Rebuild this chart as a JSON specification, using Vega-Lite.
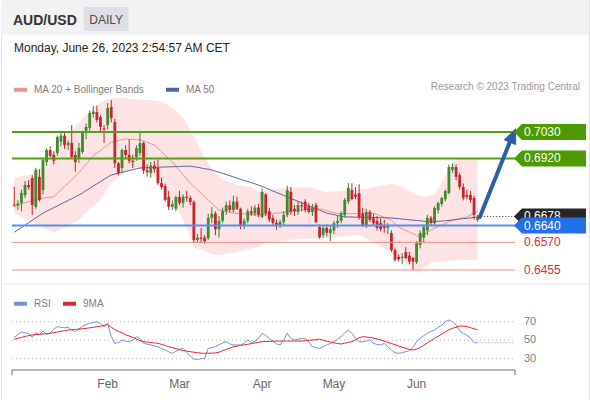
{
"$schema": "https://vega.github.io/schema/vega-lite/v6.json",
"width": 590, "height": 400,
"autosize": {"type": "fit", "contains": "padding"},
"padding": 0,
"background": "#ffffff",
"config": {"font": "Liberation Sans", "view": {"stroke": "#e2e2e2"}},
"datasets": {
"candles": [
{"i":0,"o":0.6728,"h":0.6802,"l":0.6718,"c":0.6724,"ma20":0.6720,"bbu":0.6840,"bbl":0.6693,"ma50":0.6612,"rsi":53,"rsima":51},
{"i":1,"o":0.6724,"h":0.6745,"l":0.6705,"c":0.6732,"ma20":0.6725,"bbu":0.6843,"bbl":0.6685,"ma50":0.6622,"rsi":56,"rsima":52},
{"i":2,"o":0.6734,"h":0.6790,"l":0.6700,"c":0.6776,"ma20":0.6730,"bbu":0.6846,"bbl":0.6678,"ma50":0.6632,"rsi":59,"rsima":53},
{"i":3,"o":0.6767,"h":0.6825,"l":0.6755,"c":0.6809,"ma20":0.6735,"bbu":0.6849,"bbl":0.6670,"ma50":0.6642,"rsi":58,"rsima":54},
{"i":4,"o":0.6809,"h":0.6830,"l":0.6790,"c":0.6800,"ma20":0.6740,"bbu":0.6852,"bbl":0.6662,"ma50":0.6652,"rsi":57.4,"rsima":55},
{"i":5,"o":0.6838,"h":0.6850,"l":0.6684,"c":0.6726,"ma20":0.6744,"bbu":0.6855,"bbl":0.6655,"ma50":0.6662,"rsi":53,"rsima":55.7},
{"i":6,"o":0.6718,"h":0.6880,"l":0.6710,"c":0.6872,"ma20":0.6748,"bbu":0.6867,"bbl":0.6647,"ma50":0.6672,"rsi":58,"rsima":56},
{"i":7,"o":0.6843,"h":0.6875,"l":0.6740,"c":0.6747,"ma20":0.6752,"bbu":0.6878,"bbl":0.6639,"ma50":0.6682,"rsi":56,"rsima":56.4},
{"i":8,"o":0.6788,"h":0.6920,"l":0.6770,"c":0.6913,"ma20":0.6755,"bbu":0.6890,"bbl":0.6632,"ma50":0.6692,"rsi":60,"rsima":56.7},
{"i":9,"o":0.6905,"h":0.6962,"l":0.6890,"c":0.6955,"ma20":0.6757,"bbu":0.6910,"bbl":0.6624,"ma50":0.6700,"rsi":56,"rsima":57.1},
{"i":10,"o":0.6955,"h":0.6970,"l":0.6925,"c":0.6930,"ma20":0.6758,"bbu":0.6930,"bbl":0.6617,"ma50":0.6707,"rsi":58,"rsima":57.5},
{"i":11,"o":0.6935,"h":0.6950,"l":0.6895,"c":0.6910,"ma20":0.6760,"bbu":0.6950,"bbl":0.6609,"ma50":0.6715,"rsi":62,"rsima":58.2},
{"i":12,"o":0.6942,"h":0.7015,"l":0.6930,"c":0.7009,"ma20":0.6774,"bbu":0.6970,"bbl":0.6617,"ma50":0.6722,"rsi":64.6,"rsima":58.9},
{"i":13,"o":0.6990,"h":0.7035,"l":0.6970,"c":0.7015,"ma20":0.6789,"bbu":0.6986,"bbl":0.6625,"ma50":0.6730,"rsi":64,"rsima":59.6},
{"i":14,"o":0.7015,"h":0.7030,"l":0.6960,"c":0.6975,"ma20":0.6803,"bbu":0.7003,"bbl":0.6633,"ma50":0.6737,"rsi":63.5,"rsima":60.3},
{"i":15,"o":0.6975,"h":0.6995,"l":0.6955,"c":0.6985,"ma20":0.6817,"bbu":0.7019,"bbl":0.6641,"ma50":0.6745,"rsi":63.9,"rsima":61},
{"i":16,"o":0.6984,"h":0.7059,"l":0.6920,"c":0.6926,"ma20":0.6831,"bbu":0.7035,"bbl":0.6649,"ma50":0.6752,"rsi":61,"rsima":61.3},
{"i":17,"o":0.6934,"h":0.6950,"l":0.6865,"c":0.6905,"ma20":0.6846,"bbu":0.7051,"bbl":0.6657,"ma50":0.6760,"rsi":59.2,"rsima":61.7},
{"i":18,"o":0.6920,"h":0.6985,"l":0.6900,"c":0.6963,"ma20":0.6860,"bbu":0.7068,"bbl":0.6668,"ma50":0.6767,"rsi":62,"rsima":62},
{"i":19,"o":0.6947,"h":0.7035,"l":0.6940,"c":0.7026,"ma20":0.6878,"bbu":0.7084,"bbl":0.6681,"ma50":0.6776,"rsi":65,"rsima":62.4},
{"i":20,"o":0.7026,"h":0.7065,"l":0.7000,"c":0.7051,"ma20":0.6895,"bbu":0.7100,"bbl":0.6695,"ma50":0.6786,"rsi":67,"rsima":62.8},
{"i":21,"o":0.7047,"h":0.7120,"l":0.7030,"c":0.7109,"ma20":0.6913,"bbu":0.7114,"bbl":0.6708,"ma50":0.6795,"rsi":68.3,"rsima":63.4},
{"i":22,"o":0.7105,"h":0.7140,"l":0.7090,"c":0.7115,"ma20":0.6930,"bbu":0.7128,"bbl":0.6721,"ma50":0.6805,"rsi":69,"rsima":64},
{"i":23,"o":0.7113,"h":0.7140,"l":0.7070,"c":0.7080,"ma20":0.6942,"bbu":0.7141,"bbl":0.6734,"ma50":0.6814,"rsi":70,"rsima":64.6},
{"i":24,"o":0.7092,"h":0.7100,"l":0.7030,"c":0.7051,"ma20":0.6953,"bbu":0.7155,"bbl":0.6747,"ma50":0.6823,"rsi":68,"rsima":65.1},
{"i":25,"o":0.7045,"h":0.7059,"l":0.6984,"c":0.7040,"ma20":0.6965,"bbu":0.7160,"bbl":0.6770,"ma50":0.6833,"rsi":64.6,"rsima":66},
{"i":26,"o":0.7059,"h":0.7150,"l":0.7040,"c":0.7130,"ma20":0.6976,"bbu":0.7165,"bbl":0.6794,"ma50":0.6842,"rsi":68.3,"rsima":67},
{"i":27,"o":0.7134,"h":0.7163,"l":0.7070,"c":0.7088,"ma20":0.6988,"bbu":0.7170,"bbl":0.6817,"ma50":0.6851,"rsi":54,"rsima":64},
{"i":28,"o":0.7072,"h":0.7085,"l":0.6880,"c":0.6900,"ma20":0.6991,"bbu":0.7171,"bbl":0.6830,"ma50":0.6855,"rsi":46.6,"rsima":61.5},
{"i":29,"o":0.6900,"h":0.6905,"l":0.6850,"c":0.6860,"ma20":0.6995,"bbu":0.7171,"bbl":0.6842,"ma50":0.6858,"rsi":47.5,"rsima":59.5},
{"i":30,"o":0.6880,"h":0.6962,"l":0.6860,"c":0.6955,"ma20":0.6998,"bbu":0.7172,"bbl":0.6850,"ma50":0.6862,"rsi":50.2,"rsima":58},
{"i":31,"o":0.6955,"h":0.6975,"l":0.6920,"c":0.6935,"ma20":0.7001,"bbu":0.7171,"bbl":0.6859,"ma50":0.6866,"rsi":49,"rsima":56},
{"i":32,"o":0.6935,"h":0.7000,"l":0.6900,"c":0.6910,"ma20":0.7000,"bbu":0.7169,"bbl":0.6867,"ma50":0.6869,"rsi":48.4,"rsima":54.5},
{"i":33,"o":0.6910,"h":0.6935,"l":0.6880,"c":0.6905,"ma20":0.6999,"bbu":0.7168,"bbl":0.6876,"ma50":0.6873,"rsi":50,"rsima":53},
{"i":34,"o":0.6926,"h":0.6975,"l":0.6910,"c":0.6963,"ma20":0.6998,"bbu":0.7166,"bbl":0.6884,"ma50":0.6877,"rsi":53.8,"rsima":51.3},
{"i":35,"o":0.6942,"h":0.7026,"l":0.6930,"c":0.6984,"ma20":0.6997,"bbu":0.7165,"bbl":0.6876,"ma50":0.6880,"rsi":52,"rsima":49.6},
{"i":36,"o":0.6984,"h":0.6990,"l":0.6855,"c":0.6870,"ma20":0.6992,"bbu":0.7164,"bbl":0.6867,"ma50":0.6881,"rsi":46.6,"rsima":48.4},
{"i":37,"o":0.6870,"h":0.6895,"l":0.6845,"c":0.6863,"ma20":0.6986,"bbu":0.7163,"bbl":0.6859,"ma50":0.6881,"rsi":45.7,"rsima":48},
{"i":38,"o":0.6860,"h":0.6905,"l":0.6840,"c":0.6890,"ma20":0.6981,"bbu":0.7162,"bbl":0.6853,"ma50":0.6882,"rsi":44.8,"rsima":47.5},
{"i":39,"o":0.6890,"h":0.6910,"l":0.6860,"c":0.6875,"ma20":0.6976,"bbu":0.7161,"bbl":0.6846,"ma50":0.6882,"rsi":44,"rsima":47},
{"i":40,"o":0.6880,"h":0.6915,"l":0.6810,"c":0.6817,"ma20":0.6962,"bbu":0.7160,"bbl":0.6840,"ma50":0.6883,"rsi":43,"rsima":46.6},
{"i":41,"o":0.6817,"h":0.6840,"l":0.6790,"c":0.6800,"ma20":0.6948,"bbu":0.7153,"bbl":0.6808,"ma50":0.6884,"rsi":41,"rsima":45.5},
{"i":42,"o":0.6805,"h":0.6815,"l":0.6740,"c":0.6747,"ma20":0.6933,"bbu":0.7147,"bbl":0.6776,"ma50":0.6884,"rsi":39.4,"rsima":44.3},
{"i":43,"o":0.6760,"h":0.6785,"l":0.6705,"c":0.6718,"ma20":0.6919,"bbu":0.7140,"bbl":0.6752,"ma50":0.6885,"rsi":37.5,"rsima":43},
{"i":44,"o":0.6718,"h":0.6745,"l":0.6705,"c":0.6730,"ma20":0.6905,"bbu":0.7130,"bbl":0.6736,"ma50":0.6885,"rsi":35.8,"rsima":42},
{"i":45,"o":0.6710,"h":0.6765,"l":0.6700,"c":0.6759,"ma20":0.6887,"bbu":0.7120,"bbl":0.6720,"ma50":0.6886,"rsi":38,"rsima":40.9},
{"i":46,"o":0.6759,"h":0.6785,"l":0.6725,"c":0.6735,"ma20":0.6870,"bbu":0.7105,"bbl":0.6691,"ma50":0.6886,"rsi":40,"rsima":39.8},
{"i":47,"o":0.6735,"h":0.6770,"l":0.6715,"c":0.6760,"ma20":0.6852,"bbu":0.7090,"bbl":0.6663,"ma50":0.6887,"rsi":41.2,"rsima":38.8},
{"i":48,"o":0.6760,"h":0.6785,"l":0.6740,"c":0.6755,"ma20":0.6835,"bbu":0.7063,"bbl":0.6634,"ma50":0.6887,"rsi":37,"rsima":38.2},
{"i":49,"o":0.6755,"h":0.6765,"l":0.6725,"c":0.6738,"ma20":0.6817,"bbu":0.7037,"bbl":0.6592,"ma50":0.6888,"rsi":33,"rsima":37.6},
{"i":50,"o":0.6738,"h":0.6745,"l":0.6570,"c":0.6580,"ma20":0.6803,"bbu":0.7010,"bbl":0.6551,"ma50":0.6885,"rsi":29.5,"rsima":37},
{"i":51,"o":0.6580,"h":0.6605,"l":0.6568,"c":0.6590,"ma20":0.6789,"bbu":0.6980,"bbl":0.6545,"ma50":0.6883,"rsi":29.3,"rsima":36.5},
{"i":52,"o":0.6590,"h":0.6630,"l":0.6568,"c":0.6585,"ma20":0.6775,"bbu":0.6950,"bbl":0.6540,"ma50":0.6880,"rsi":30,"rsima":36},
{"i":53,"o":0.6590,"h":0.6600,"l":0.6565,"c":0.6575,"ma20":0.6761,"bbu":0.6925,"bbl":0.6534,"ma50":0.6877,"rsi":30.4,"rsima":35.8},
{"i":54,"o":0.6588,"h":0.6690,"l":0.6580,"c":0.6672,"ma20":0.6747,"bbu":0.6900,"bbl":0.6528,"ma50":0.6875,"rsi":41.2,"rsima":35.9},
{"i":55,"o":0.6672,"h":0.6717,"l":0.6650,"c":0.6690,"ma20":0.6733,"bbu":0.6875,"bbl":0.6522,"ma50":0.6872,"rsi":42,"rsima":36},
{"i":56,"o":0.6690,"h":0.6700,"l":0.6600,"c":0.6625,"ma20":0.6719,"bbu":0.6860,"bbl":0.6520,"ma50":0.6867,"rsi":43,"rsima":36.3},
{"i":57,"o":0.6625,"h":0.6680,"l":0.6590,"c":0.6660,"ma20":0.6705,"bbu":0.6845,"bbl":0.6518,"ma50":0.6862,"rsi":45,"rsima":37},
{"i":58,"o":0.6660,"h":0.6715,"l":0.6650,"c":0.6700,"ma20":0.6702,"bbu":0.6830,"bbl":0.6520,"ma50":0.6858,"rsi":47,"rsima":38.5},
{"i":59,"o":0.6700,"h":0.6740,"l":0.6685,"c":0.6725,"ma20":0.6699,"bbu":0.6825,"bbl":0.6522,"ma50":0.6853,"rsi":48.4,"rsima":40},
{"i":60,"o":0.6725,"h":0.6745,"l":0.6695,"c":0.6705,"ma20":0.6695,"bbu":0.6820,"bbl":0.6525,"ma50":0.6848,"rsi":46,"rsima":41.5},
{"i":61,"o":0.6705,"h":0.6765,"l":0.6695,"c":0.6740,"ma20":0.6692,"bbu":0.6815,"bbl":0.6526,"ma50":0.6843,"rsi":44.8,"rsima":43},
{"i":62,"o":0.6740,"h":0.6760,"l":0.6705,"c":0.6710,"ma20":0.6691,"bbu":0.6810,"bbl":0.6530,"ma50":0.6838,"rsi":44.8,"rsima":43.6},
{"i":63,"o":0.6710,"h":0.6715,"l":0.6625,"c":0.6640,"ma20":0.6690,"bbu":0.6808,"bbl":0.6533,"ma50":0.6833,"rsi":44.8,"rsima":44.3},
{"i":64,"o":0.6640,"h":0.6670,"l":0.6625,"c":0.6660,"ma20":0.6689,"bbu":0.6805,"bbl":0.6537,"ma50":0.6828,"rsi":47,"rsima":45},
{"i":65,"o":0.6660,"h":0.6710,"l":0.6650,"c":0.6700,"ma20":0.6688,"bbu":0.6803,"bbl":0.6540,"ma50":0.6824,"rsi":50.2,"rsima":45.6},
{"i":66,"o":0.6700,"h":0.6720,"l":0.6680,"c":0.6690,"ma20":0.6686,"bbu":0.6800,"bbl":0.6544,"ma50":0.6819,"rsi":47.5,"rsima":46.3},
{"i":67,"o":0.6690,"h":0.6725,"l":0.6680,"c":0.6715,"ma20":0.6685,"bbu":0.6790,"bbl":0.6548,"ma50":0.6814,"rsi":49,"rsima":47},
{"i":68,"o":0.6715,"h":0.6730,"l":0.6675,"c":0.6685,"ma20":0.6684,"bbu":0.6780,"bbl":0.6551,"ma50":0.6809,"rsi":52,"rsima":47.7},
{"i":69,"o":0.6676,"h":0.6795,"l":0.6670,"c":0.6780,"ma20":0.6686,"bbu":0.6783,"bbl":0.6560,"ma50":0.6803,"rsi":57.5,"rsima":48.4},
{"i":70,"o":0.6770,"h":0.6775,"l":0.6680,"c":0.6690,"ma20":0.6687,"bbu":0.6785,"bbl":0.6568,"ma50":0.6797,"rsi":55,"rsima":48.6},
{"i":71,"o":0.6700,"h":0.6715,"l":0.6655,"c":0.6665,"ma20":0.6689,"bbu":0.6788,"bbl":0.6571,"ma50":0.6791,"rsi":52,"rsima":48.7},
{"i":72,"o":0.6672,"h":0.6685,"l":0.6640,"c":0.6651,"ma20":0.6690,"bbu":0.6790,"bbl":0.6573,"ma50":0.6784,"rsi":49,"rsima":48.9},
{"i":73,"o":0.6651,"h":0.6665,"l":0.6622,"c":0.6640,"ma20":0.6692,"bbu":0.6792,"bbl":0.6575,"ma50":0.6778,"rsi":46,"rsima":49},
{"i":74,"o":0.6640,"h":0.6665,"l":0.6630,"c":0.6655,"ma20":0.6693,"bbu":0.6794,"bbl":0.6577,"ma50":0.6772,"rsi":44.8,"rsima":49.1},
{"i":75,"o":0.6655,"h":0.6700,"l":0.6640,"c":0.6684,"ma20":0.6695,"bbu":0.6796,"bbl":0.6578,"ma50":0.6766,"rsi":50,"rsima":49.1},
{"i":76,"o":0.6684,"h":0.6806,"l":0.6675,"c":0.6788,"ma20":0.6697,"bbu":0.6798,"bbl":0.6580,"ma50":0.6760,"rsi":57.5,"rsima":49.1},
{"i":77,"o":0.6781,"h":0.6800,"l":0.6685,"c":0.6698,"ma20":0.6699,"bbu":0.6800,"bbl":0.6581,"ma50":0.6753,"rsi":52,"rsima":49.1},
{"i":78,"o":0.6710,"h":0.6725,"l":0.6680,"c":0.6700,"ma20":0.6701,"bbu":0.6800,"bbl":0.6582,"ma50":0.6747,"rsi":50.2,"rsima":49.1},
{"i":79,"o":0.6697,"h":0.6740,"l":0.6685,"c":0.6725,"ma20":0.6703,"bbu":0.6800,"bbl":0.6583,"ma50":0.6741,"rsi":51,"rsima":49.1},
{"i":80,"o":0.6725,"h":0.6740,"l":0.6700,"c":0.6720,"ma20":0.6705,"bbu":0.6800,"bbl":0.6584,"ma50":0.6735,"rsi":52,"rsima":49.1},
{"i":81,"o":0.6740,"h":0.6750,"l":0.6695,"c":0.6705,"ma20":0.6706,"bbu":0.6800,"bbl":0.6585,"ma50":0.6729,"rsi":52,"rsima":49.5},
{"i":82,"o":0.6720,"h":0.6735,"l":0.6690,"c":0.6697,"ma20":0.6707,"bbu":0.6800,"bbl":0.6586,"ma50":0.6722,"rsi":48,"rsima":49.9},
{"i":83,"o":0.6697,"h":0.6730,"l":0.6680,"c":0.6715,"ma20":0.6708,"bbu":0.6796,"bbl":0.6586,"ma50":0.6716,"rsi":43,"rsima":50.2},
{"i":84,"o":0.6726,"h":0.6735,"l":0.6650,"c":0.6655,"ma20":0.6709,"bbu":0.6792,"bbl":0.6587,"ma50":0.6710,"rsi":42,"rsima":50.6},
{"i":85,"o":0.6634,"h":0.6645,"l":0.6585,"c":0.6592,"ma20":0.6710,"bbu":0.6788,"bbl":0.6587,"ma50":0.6704,"rsi":41.2,"rsima":51},
{"i":86,"o":0.6601,"h":0.6640,"l":0.6590,"c":0.6630,"ma20":0.6706,"bbu":0.6784,"bbl":0.6588,"ma50":0.6698,"rsi":43,"rsima":50},
{"i":87,"o":0.6630,"h":0.6645,"l":0.6595,"c":0.6610,"ma20":0.6702,"bbu":0.6780,"bbl":0.6588,"ma50":0.6692,"rsi":44.8,"rsima":49},
{"i":88,"o":0.6610,"h":0.6640,"l":0.6575,"c":0.6625,"ma20":0.6698,"bbu":0.6781,"bbl":0.6590,"ma50":0.6689,"rsi":46.6,"rsima":48},
{"i":89,"o":0.6620,"h":0.6660,"l":0.6605,"c":0.6650,"ma20":0.6694,"bbu":0.6782,"bbl":0.6591,"ma50":0.6686,"rsi":48.4,"rsima":47.2},
{"i":90,"o":0.6650,"h":0.6680,"l":0.6630,"c":0.6660,"ma20":0.6690,"bbu":0.6783,"bbl":0.6593,"ma50":0.6682,"rsi":51,"rsima":46.4},
{"i":91,"o":0.6660,"h":0.6700,"l":0.6650,"c":0.6690,"ma20":0.6690,"bbu":0.6784,"bbl":0.6594,"ma50":0.6679,"rsi":53.8,"rsima":45.9},
{"i":92,"o":0.6684,"h":0.6755,"l":0.6675,"c":0.6747,"ma20":0.6690,"bbu":0.6785,"bbl":0.6595,"ma50":0.6676,"rsi":58,"rsima":46.8},
{"i":93,"o":0.6740,"h":0.6817,"l":0.6730,"c":0.6797,"ma20":0.6690,"bbu":0.6786,"bbl":0.6597,"ma50":0.6676,"rsi":61,"rsima":47.6},
{"i":94,"o":0.6788,"h":0.6817,"l":0.6745,"c":0.6751,"ma20":0.6690,"bbu":0.6788,"bbl":0.6598,"ma50":0.6676,"rsi":57.4,"rsima":48.4},
{"i":95,"o":0.6770,"h":0.6800,"l":0.6750,"c":0.6760,"ma20":0.6690,"bbu":0.6789,"bbl":0.6600,"ma50":0.6675,"rsi":52,"rsima":50.5},
{"i":96,"o":0.6775,"h":0.6812,"l":0.6665,"c":0.6676,"ma20":0.6690,"bbu":0.6790,"bbl":0.6601,"ma50":0.6675,"rsi":48.4,"rsima":52.7},
{"i":97,"o":0.6690,"h":0.6715,"l":0.6635,"c":0.6642,"ma20":0.6691,"bbu":0.6793,"bbl":0.6594,"ma50":0.6675,"rsi":48.4,"rsima":53.8},
{"i":98,"o":0.6642,"h":0.6710,"l":0.6630,"c":0.6697,"ma20":0.6691,"bbu":0.6795,"bbl":0.6586,"ma50":0.6674,"rsi":49,"rsima":53.5},
{"i":99,"o":0.6697,"h":0.6705,"l":0.6655,"c":0.6663,"ma20":0.6692,"bbu":0.6798,"bbl":0.6578,"ma50":0.6674,"rsi":50.2,"rsima":53.1},
{"i":100,"o":0.6670,"h":0.6690,"l":0.6640,"c":0.6650,"ma20":0.6692,"bbu":0.6800,"bbl":0.6570,"ma50":0.6674,"rsi":46.6,"rsima":52.2},
{"i":101,"o":0.6660,"h":0.6680,"l":0.6620,"c":0.6630,"ma20":0.6686,"bbu":0.6803,"bbl":0.6562,"ma50":0.6673,"rsi":45.5,"rsima":51.3},
{"i":102,"o":0.6650,"h":0.6670,"l":0.6615,"c":0.6625,"ma20":0.6680,"bbu":0.6806,"bbl":0.6555,"ma50":0.6673,"rsi":44.8,"rsima":50.4},
{"i":103,"o":0.6640,"h":0.6665,"l":0.6610,"c":0.6630,"ma20":0.6675,"bbu":0.6809,"bbl":0.6547,"ma50":0.6673,"rsi":46.6,"rsima":49},
{"i":104,"o":0.6630,"h":0.6650,"l":0.6605,"c":0.6640,"ma20":0.6669,"bbu":0.6812,"bbl":0.6538,"ma50":0.6672,"rsi":43,"rsima":47.7},
{"i":105,"o":0.6609,"h":0.6620,"l":0.6530,"c":0.6538,"ma20":0.6663,"bbu":0.6815,"bbl":0.6526,"ma50":0.6672,"rsi":39.4,"rsima":46.4},
{"i":106,"o":0.6538,"h":0.6545,"l":0.6490,"c":0.6497,"ma20":0.6649,"bbu":0.6810,"bbl":0.6514,"ma50":0.6670,"rsi":36.5,"rsima":45.1},
{"i":107,"o":0.6510,"h":0.6520,"l":0.6490,"c":0.6500,"ma20":0.6634,"bbu":0.6805,"bbl":0.6503,"ma50":0.6669,"rsi":35.8,"rsima":43.8},
{"i":108,"o":0.6505,"h":0.6525,"l":0.6480,"c":0.6510,"ma20":0.6627,"bbu":0.6800,"bbl":0.6491,"ma50":0.6667,"rsi":36.5,"rsima":42.5},
{"i":109,"o":0.6530,"h":0.6550,"l":0.6500,"c":0.6505,"ma20":0.6620,"bbu":0.6792,"bbl":0.6480,"ma50":0.6666,"rsi":37.6,"rsima":41.2},
{"i":110,"o":0.6515,"h":0.6530,"l":0.6480,"c":0.6490,"ma20":0.6613,"bbu":0.6783,"bbl":0.6468,"ma50":0.6664,"rsi":38.5,"rsima":39.9},
{"i":111,"o":0.6505,"h":0.6510,"l":0.6455,"c":0.6490,"ma20":0.6606,"bbu":0.6775,"bbl":0.6455,"ma50":0.6663,"rsi":42,"rsima":39.5},
{"i":112,"o":0.6488,"h":0.6575,"l":0.6480,"c":0.6567,"ma20":0.6599,"bbu":0.6770,"bbl":0.6443,"ma50":0.6661,"rsi":48.4,"rsima":40.5},
{"i":113,"o":0.6559,"h":0.6620,"l":0.6545,"c":0.6609,"ma20":0.6592,"bbu":0.6765,"bbl":0.6453,"ma50":0.6660,"rsi":52,"rsima":42},
{"i":114,"o":0.6590,"h":0.6645,"l":0.6570,"c":0.6634,"ma20":0.6602,"bbu":0.6760,"bbl":0.6464,"ma50":0.6658,"rsi":55,"rsima":44.6},
{"i":115,"o":0.6620,"h":0.6685,"l":0.6600,"c":0.6672,"ma20":0.6612,"bbu":0.6763,"bbl":0.6474,"ma50":0.6657,"rsi":57.5,"rsima":47.2},
{"i":116,"o":0.6672,"h":0.6680,"l":0.6640,"c":0.6651,"ma20":0.6622,"bbu":0.6767,"bbl":0.6484,"ma50":0.6655,"rsi":59.5,"rsima":49.6},
{"i":117,"o":0.6651,"h":0.6720,"l":0.6640,"c":0.6713,"ma20":0.6629,"bbu":0.6770,"bbl":0.6486,"ma50":0.6656,"rsi":61,"rsima":52},
{"i":118,"o":0.6705,"h":0.6740,"l":0.6690,"c":0.6734,"ma20":0.6636,"bbu":0.6795,"bbl":0.6487,"ma50":0.6658,"rsi":64,"rsima":54.3},
{"i":119,"o":0.6730,"h":0.6760,"l":0.6720,"c":0.6755,"ma20":0.6643,"bbu":0.6820,"bbl":0.6489,"ma50":0.6659,"rsi":66,"rsima":56.6},
{"i":120,"o":0.6750,"h":0.6790,"l":0.6740,"c":0.6784,"ma20":0.6649,"bbu":0.6850,"bbl":0.6490,"ma50":0.6660,"rsi":70,"rsima":59},
{"i":121,"o":0.6776,"h":0.6895,"l":0.6770,"c":0.6884,"ma20":0.6656,"bbu":0.6880,"bbl":0.6492,"ma50":0.6662,"rsi":71.8,"rsima":61.3},
{"i":122,"o":0.6872,"h":0.6900,"l":0.6860,"c":0.6884,"ma20":0.6663,"bbu":0.6898,"bbl":0.6494,"ma50":0.6663,"rsi":70,"rsima":62.8},
{"i":123,"o":0.6884,"h":0.6895,"l":0.6830,"c":0.6843,"ma20":0.6666,"bbu":0.6915,"bbl":0.6495,"ma50":0.6665,"rsi":66.4,"rsima":64},
{"i":124,"o":0.6850,"h":0.6860,"l":0.6790,"c":0.6801,"ma20":0.6670,"bbu":0.6917,"bbl":0.6497,"ma50":0.6667,"rsi":60,"rsima":65.2},
{"i":125,"o":0.6801,"h":0.6815,"l":0.6745,"c":0.6755,"ma20":0.6673,"bbu":0.6918,"bbl":0.6497,"ma50":0.6669,"rsi":57.5,"rsima":65.1},
{"i":126,"o":0.6768,"h":0.6790,"l":0.6750,"c":0.6760,"ma20":0.6676,"bbu":0.6920,"bbl":0.6497,"ma50":0.6670,"rsi":55.6,"rsima":64.7},
{"i":127,"o":0.6768,"h":0.6785,"l":0.6735,"c":0.6747,"ma20":0.6684,"bbu":0.6922,"bbl":0.6497,"ma50":0.6672,"rsi":52,"rsima":63.6},
{"i":128,"o":0.6755,"h":0.6765,"l":0.6665,"c":0.6684,"ma20":0.6692,"bbu":0.6923,"bbl":0.6497,"ma50":0.6674,"rsi":47.3,"rsima":62.3},
{"i":129,"o":0.6663,"h":0.6685,"l":0.6655,"c":0.6676,"ma20":0.6700,"bbu":0.6925,"bbl":0.6497,"ma50":0.6676,"rsi":47.3,"rsima":61}
],
"levels": [
{"v":0.7030,"kind":"res"},
{"v":0.6920,"kind":"res"},
{"v":0.6678,"kind":"last"},
{"v":0.6640,"kind":"pivot"},
{"v":0.6570,"kind":"sup"},
{"v":0.6455,"kind":"sup"}
],
"rsiLevels": [{"v":70},{"v":50},{"v":30}],
"months": [{"m":"Feb","i":26},{"m":"Mar","i":46},{"m":"Apr","i":69},{"m":"May","i":89},{"m":"Jun","i":112}]
},
"layer": [
{
"layer": [
{"data": {"values": [{}]}, "mark": {"type": "rect", "color": "#f2f2f2"},
 "encoding": {"y": {"datum": 0.758, "type": "quantitative", "scale": {"domain": [0.591333, 0.758], "nice": false, "zero": false}, "axis": null}, "y2": {"datum": 0.743417}}},
{"data": {"values": [{}]}, "mark": {"type": "rect", "color": "#dfe0e5"},
 "encoding": {"x": {"datum": 19.33, "type": "quantitative", "scale": {"domain": [-3.69, 160], "nice": false, "zero": false, "padding": 0}, "axis": null}, "x2": {"datum": 31.82},
  "y": {"datum": 0.755083, "type": "quantitative", "axis": null}, "y2": {"datum": 0.745083}}},
{"data": {"values": [{}]}, "mark": {"type": "text", "text": "AUD/USD", "align": "left", "baseline": "alphabetic", "fontSize": 14, "fontWeight": "bold", "color": "#333333"},
 "encoding": {"x": {"datum": -0.36, "type": "quantitative", "axis": null}, "y": {"datum": 0.747583, "type": "quantitative", "axis": null}}},
{"data": {"values": [{}]}, "mark": {"type": "text", "text": "DAILY", "align": "center", "baseline": "alphabetic", "fontSize": 12, "color": "#4a4a4a"},
 "encoding": {"x": {"datum": 25.58, "type": "quantitative", "axis": null}, "y": {"datum": 0.747917, "type": "quantitative", "axis": null}}},
{"data": {"values": [{}]}, "mark": {"type": "text", "text": "Monday, June 26, 2023 2:54:57 AM CET", "align": "left", "baseline": "alphabetic", "fontSize": 12, "color": "#222222"},
 "encoding": {"x": {"datum": -0.08, "type": "quantitative", "axis": null}, "y": {"datum": 0.736125, "type": "quantitative", "axis": null}}},
{"data": {"values": [{}]}, "mark": {"type": "text", "text": "Research © 2023 Trading Central", "align": "right", "baseline": "alphabetic", "fontSize": 10, "color": "#9a9a9a"},
 "encoding": {"x": {"datum": 157.48, "type": "quantitative", "axis": null}, "y": {"datum": 0.7205, "type": "quantitative", "axis": null}}},
{"data": {"values": [{}]}, "mark": {"type": "rule", "color": "#e4e4e4", "strokeWidth": 1},
 "encoding": {"y": {"datum": 0.639667, "type": "quantitative", "axis": null}}},
{"data": {"name": "candles"}, "mark": {"type": "area", "color": "#fde1e1", "opacity": 0.95},
 "encoding": {"x": {"field": "i", "type": "quantitative", "axis": null}, "y": {"field": "bbu", "type": "quantitative", "axis": null}, "y2": {"field": "bbl"}}},
{"data": {"name": "candles"}, "transform": [{"fold": ["ma20", "ma50"], "as": ["series", "val"]}],
 "mark": {"type": "line", "strokeWidth": 1},
 "encoding": {"x": {"field": "i", "type": "quantitative", "axis": null}, "y": {"field": "val", "type": "quantitative", "axis": null},
  "color": {"field": "series", "type": "nominal", "scale": {"domain": ["ma20", "ma50"], "range": ["#f29090", "#51679f"]},
   "legend": {"orient": "none", "legendX": 11, "legendY": 81, "direction": "horizontal", "title": null, "symbolType": "stroke", "symbolStrokeWidth": 4, "symbolSize": 169, "labelFontSize": 10, "labelColor": "#808080", "columnPadding": 13, "labelOffset": 5,
    "labelExpr": "datum.label == 'ma20' ? 'MA 20 + Bollinger Bands' : 'MA 50'"}}}},
{"data": {"name": "candles"}, "mark": {"type": "rule", "strokeWidth": 1},
 "encoding": {"x": {"field": "i", "type": "quantitative", "axis": null}, "y": {"field": "l", "type": "quantitative", "axis": null}, "y2": {"field": "h"},
  "color": {"condition": {"test": "datum.c >= datum.o", "value": "#3a7f2c"}, "value": "#b8242b"}}},
{"data": {"name": "candles"}, "mark": {"type": "bar", "width": 2.8},
 "encoding": {"x": {"field": "i", "type": "quantitative", "axis": null}, "y": {"field": "o", "type": "quantitative", "axis": null}, "y2": {"field": "c"},
  "color": {"condition": {"test": "datum.c >= datum.o", "value": "#3d8a2f"}, "value": "#c2262e"}}},
{"data": {"name": "levels"}, "transform": [{"filter": "datum.kind != 'last'"}],
 "mark": {"type": "rule"},
 "encoding": {"x": {"datum": -0.64, "type": "quantitative", "axis": null}, "x2": {"datum": 139.4}, "y": {"field": "v", "type": "quantitative", "axis": null},
  "color": {"condition": [{"test": "datum.kind == 'res'", "value": "#55a010"}, {"test": "datum.kind == 'pivot'", "value": "#5b8cf0"}], "value": "#f08c8c"},
  "strokeWidth": {"condition": {"test": "datum.kind == 'sup'", "value": 1}, "value": 2}}},
{"data": {"values": [{}]}, "mark": {"type": "rule", "color": "#333333", "strokeDash": [1, 2], "strokeWidth": 1},
 "encoding": {"x": {"datum": 130, "type": "quantitative", "axis": null}, "x2": {"datum": 139.4}, "y": {"datum": 0.6678, "type": "quantitative", "axis": null}}},
{"data": {"values": [{}]}, "mark": {"type": "rule", "color": "#2d5ea6", "strokeWidth": 4, "strokeCap": "round"},
 "encoding": {"x": {"datum": 129.6, "type": "quantitative", "axis": null}, "x2": {"datum": 138.6}, "y": {"datum": 0.6676, "type": "quantitative", "axis": null}, "y2": {"datum": 0.7012}}},
{"data": {"values": [{}]}, "mark": {"type": "point", "shape": "M0,-1L0.75,0.75L-0.75,0.75Z", "filled": true, "opacity": 1, "color": "#2d5ea6", "size": 330, "angle": 22.5},
 "encoding": {"x": {"datum": 138.7, "type": "quantitative", "axis": null}, "y": {"datum": 0.70117, "type": "quantitative", "axis": null}}},
{"data": {"name": "levels"}, "transform": [{"filter": "datum.kind == 'res' || datum.kind == 'last'"}],
 "mark": {"type": "point", "shape": "M-1,0L-0.78,-0.222L1,-0.222L1,0.222L-0.78,0.222Z", "filled": true, "opacity": 1, "size": 5184, "strokeWidth": 0},
 "encoding": {"x": {"datum": 149.15, "type": "quantitative", "axis": null}, "y": {"field": "v", "type": "quantitative", "axis": null},
  "color": {"condition": {"test": "datum.kind == 'res'", "value": "#4c9a00"}, "value": "#262626"}}},
{"data": {"name": "levels"}, "transform": [{"filter": "datum.kind == 'res' || datum.kind == 'last'"}],
 "mark": {"type": "text", "align": "left", "baseline": "middle", "fontSize": 12, "color": "#ffffff"},
 "encoding": {"x": {"datum": 141.9, "type": "quantitative", "axis": null}, "y": {"field": "v", "type": "quantitative", "axis": null}, "text": {"field": "v", "type": "quantitative", "format": ".4f"}}},
{"data": {"name": "levels"}, "transform": [{"filter": "datum.kind == 'pivot'"}],
 "mark": {"type": "point", "shape": "M-1,0L-0.78,-0.222L1,-0.222L1,0.222L-0.78,0.222Z", "filled": true, "opacity": 1, "size": 5184, "strokeWidth": 0, "color": "#2470e8"},
 "encoding": {"x": {"datum": 149.15, "type": "quantitative", "axis": null}, "y": {"field": "v", "type": "quantitative", "axis": null}}},
{"data": {"name": "levels"}, "transform": [{"filter": "datum.kind == 'pivot' || datum.kind == 'sup'"}],
 "mark": {"type": "text", "align": "left", "baseline": "middle", "fontSize": 12},
 "encoding": {"x": {"datum": 141.9, "type": "quantitative", "axis": null}, "y": {"field": "v", "type": "quantitative", "axis": null}, "text": {"field": "v", "type": "quantitative", "format": ".4f"},
  "color": {"condition": {"test": "datum.kind == 'sup'", "value": "#d6303a"}, "value": "#ffffff"}}}
]
},
{
"layer": [
{"data": {"name": "rsiLevels"}, "mark": {"type": "rule", "color": "#b0b0b0", "strokeDash": [1, 3], "strokeWidth": 1},
 "encoding": {"x": {"datum": -0.64, "type": "quantitative", "scale": {"domain": [-3.69, 160], "nice": false, "zero": false, "padding": 0}, "axis": null}, "x2": {"datum": 139.4},
  "y": {"field": "v", "type": "quantitative", "scale": {"domain": [-14.65, 417.8], "nice": false, "zero": false}, "axis": null}}},
{"data": {"name": "rsiLevels"}, "mark": {"type": "text", "align": "left", "baseline": "middle", "fontSize": 11, "color": "#808080"},
 "encoding": {"x": {"datum": 141.9, "type": "quantitative", "axis": null}, "y": {"field": "v", "type": "quantitative", "axis": null}, "text": {"field": "v", "type": "quantitative"}}},
{"data": {"name": "candles"}, "transform": [{"fold": ["rsi", "rsima"], "as": ["series", "val"]}],
 "mark": {"type": "line", "strokeWidth": 1},
 "encoding": {"x": {"field": "i", "type": "quantitative", "axis": null},
  "y": {"field": "val", "type": "quantitative", "axis": null},
  "color": {"field": "series", "type": "nominal", "scale": {"domain": ["rsi", "rsima"], "range": ["#7491e0", "#e3262c"]},
   "legend": {"orient": "none", "legendX": 11, "legendY": 295, "direction": "horizontal", "title": null, "symbolType": "stroke", "symbolStrokeWidth": 4, "symbolSize": 169, "labelFontSize": 10, "labelColor": "#808080", "columnPadding": 4, "labelOffset": 5,
    "labelExpr": "datum.label == 'rsi' ? 'RSI' : '9MA'"}}}},
{"data": {"values": [{}]}, "mark": {"type": "rule", "color": "#7491e0", "strokeDash": [1, 2], "strokeWidth": 1},
 "encoding": {"x": {"datum": 129.5, "type": "quantitative", "axis": null}, "x2": {"datum": 139.4}, "y": {"datum": 47.3, "type": "quantitative", "axis": null}}},
{"data": {"values": [{}]}, "mark": {"type": "rule", "color": "#9c9c9c", "strokeWidth": 1.5},
 "encoding": {"x": {"datum": -0.64, "type": "quantitative", "axis": null}, "x2": {"datum": 139.4}, "y": {"datum": 17.8, "type": "quantitative", "axis": null}}},
{"data": {"values": [{"e": -0.64}, {"e": 139.4}]}, "mark": {"type": "rule", "color": "#9c9c9c", "strokeWidth": 1.5},
 "encoding": {"x": {"field": "e", "type": "quantitative", "axis": null}, "y": {"datum": 17.8, "type": "quantitative", "axis": null}, "y2": {"datum": 12.0}}},
{"data": {"name": "months"}, "mark": {"type": "text", "align": "center", "baseline": "alphabetic", "fontSize": 12, "color": "#666666"},
 "encoding": {"x": {"field": "i", "type": "quantitative", "axis": null}, "y": {"datum": -1.7, "type": "quantitative", "axis": null}, "text": {"field": "m", "type": "nominal"}}}
]
}
],
"resolve": {"scale": {"y": "independent", "color": "independent"}}
}
